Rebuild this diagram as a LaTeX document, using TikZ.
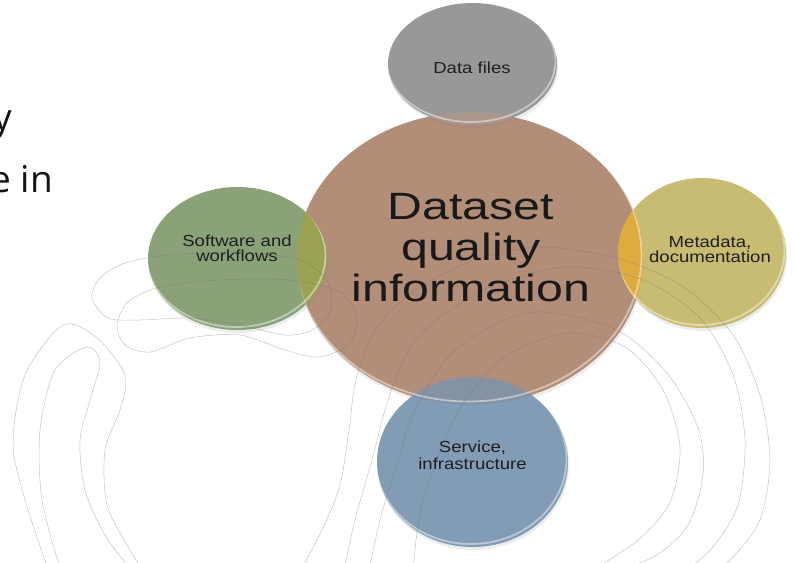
\documentclass[tikz,border=0pt]{standalone}
\usepackage{fontspec}
\usepackage{xcolor}
\usetikzlibrary{shapes.geometric,shadows}

\newfontfamily\labelfont[FakeStretch=1.16]{Liberation Sans}
\newfontfamily\titlefont[FakeStretch=1.27]{Liberation Sans}
\newfontfamily\slidefont{Open Sans}

\definecolor{hubbrown}{RGB}{178,141,120}
\definecolor{filesgrey}{RGB}{152,152,152}
\definecolor{softgreen}{RGB}{139,162,120}
\definecolor{metayellow}{RGB}{200,187,114}
\definecolor{serviceblue}{RGB}{131,156,181}
\definecolor{mixgrey}{RGB}{170,150,138}
\definecolor{mixgreen}{RGB}{155,162,82}
\definecolor{mixyellow}{RGB}{222,172,62}
\definecolor{mixblue}{RGB}{132,146,163}

\begin{document}
\begin{tikzpicture}[x=1pt,y=-1pt,
    bubble/.style={ellipse,inner sep=0pt,outer sep=0pt,
      drop shadow={shadow xshift=1pt,shadow yshift=-3pt,opacity=.15}},
    rim/.style={draw=white,draw opacity=.45,line width=1.8pt},
    swirl/.style={draw=black!55,draw opacity=.42,line width=.5pt},
    bigtext/.style={font=\titlefont\fontsize{38}{41}\selectfont,text=black!90,align=center,inner sep=0pt},
    smalltext/.style={font=\labelfont\fontsize{16}{15}\selectfont,text=black!88,align=center,inner sep=0pt},
    slidetext/.style={font=\slidefont\fontsize{37}{44}\selectfont,text=black!92,inner sep=0pt}]
  \useasboundingbox (0,0) rectangle (794,562);
  \clip (0,0) rectangle (794,562);

  % the five bubbles
  \node[bubble,fill=hubbrown,minimum width=346pt,minimum height=292pt] (quality) at (470,258.5) {};
  \node[bubble,fill=filesgrey,minimum width=169pt,minimum height=122pt] (files) at (472.5,64) {};
  \node[bubble,fill=softgreen,minimum width=179pt,minimum height=143pt] (software) at (237.5,258.5) {};
  \node[bubble,fill=metayellow,minimum width=168pt,minimum height=150pt] (metadata) at (702,253) {};
  \node[bubble,fill=serviceblue,minimum width=191pt,minimum height=170pt] (service) at (472.5,462) {};

  % where the small bubbles lie on the big one
  \begin{scope}
    \clip (470,258.5) ellipse [x radius=173pt,y radius=146pt];
    \fill[mixgrey] (472.5,64) ellipse [x radius=84.5pt,y radius=61pt];
    \fill[mixgreen] (237.5,258.5) ellipse [x radius=89.5pt,y radius=71.5pt];
    \fill[mixyellow] (702,253) ellipse [x radius=84pt,y radius=75pt];
    \fill[mixblue] (472.5,462) ellipse [x radius=95.5pt,y radius=85pt];
  \end{scope}

  % light edge along the lower right of each bubble
  \foreach \cx/\cy/\rx/\ry in {470/258.5/173/146, 472.5/64/84.5/61, 237.5/258.5/89.5/71.5,
      702/253/84/75, 472.5/462/95.5/85} {
    \begin{scope}
      \clip (\cx,\cy) ellipse [x radius=\rx pt,y radius=\ry pt];
      \draw[rim] (\cx-1.5,\cy-3) ellipse [x radius=\rx pt,y radius=\ry pt];
    \end{scope}
  }

  % thin swirls in the background
  \draw[swirl] plot[smooth] coordinates {(413,575) (416,540) (422,505) (437,460) (462,405) (505,357)
    (567,333) (625,347) (663,390) (680,447) (670,502) (638,540) (585,575)};
  \draw[swirl] plot[smooth] coordinates {(368,575) (380,520) (395,470) (415,410) (450,355) (500,322)
    (545,312) (617,330) (667,373) (698,428) (703,475) (688,525) (655,556) (605,575)};
  \draw[swirl] plot[smooth] coordinates {(343,575) (355,520) (372,460) (388,400) (410,348) (443,315)
    (495,285) (567,267) (643,280) (700,318) (733,375) (745,440) (738,505) (712,548) (680,575)};
  \draw[swirl] plot[smooth] coordinates {(298,575) (322,530) (340,485) (349,430) (356,380) (375,330)
    (415,290) (475,260) (543,247) (623,260) (685,288) (733,335) (760,395) (770,460) (760,520)
    (730,560) (705,575)};
  \draw[swirl] plot[smooth] coordinates {(50,575) (25,500) (13,443) (25,375) (63,325) (97,338)
    (125,375) (120,410) (105,450) (107,505) (130,550) (145,575)};
  \draw[swirl] plot[smooth] coordinates {(62,575) (42,500) (40,430) (55,370) (87,347) (100,362)
    (90,400) (80,440) (85,490) (105,535) (135,575)};
  \draw[swirl] plot[smooth cycle] coordinates {(92,298) (100,278) (125,263) (170,255) (240,252)
    (300,260) (328,282) (330,312) (312,330) (285,335) (240,325) (190,318) (140,320) (108,318)};
  \draw[swirl] plot[smooth cycle] coordinates {(117,325) (128,302) (160,287) (220,280) (290,280)
    (340,292) (357,318) (348,345) (318,357) (285,350) (240,335) (190,338) (150,352) (125,345)};

  % texts
  \node[bigtext] (title) at (471,247.7) {Dataset\\quality\\information};
  \node[smalltext] (filestext) at (472,68.2) {Data files};
  \node[smalltext] (softwaretext) at (237,248.3) {Software and\\workflows};
  \node[smalltext] (metadatatext) at (710,249.5) {Metadata,\\documentation};
  \node[smalltext] (servicetext) at (472.5,455.5) {Service,\\[2.5pt]infrastructure};

  \node[slidetext,anchor=base east] (slideone) at (12,130) {y};
  \node[slidetext,anchor=base east] (slidetwo) at (53,192) {e in};
\end{tikzpicture}
\end{document}
